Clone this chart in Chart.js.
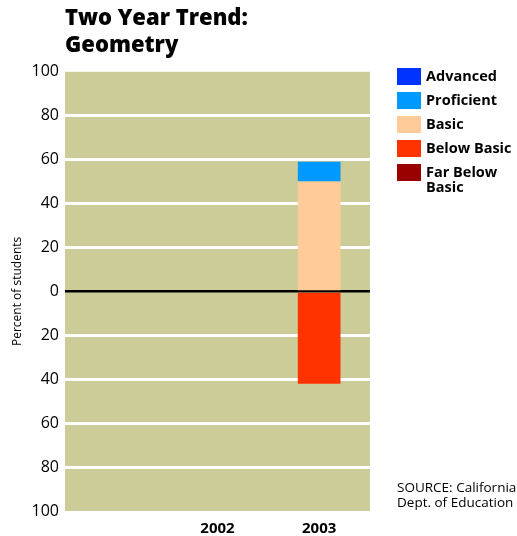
<!DOCTYPE html>
<html>
<head>
<meta charset="utf-8">
<script src="https://cdn.jsdelivr.net/npm/chart.js@4"></script>
<style>
  html, body { margin: 0; padding: 0; background: #fff; }
  #wrap { width: 517px; height: 536px; }
</style>
</head>
<body>
<div id="wrap"><canvas id="trend"></canvas></div>
<script>
// years (first slot left empty, as in the original)
var categories = ['', '2002', '2003'];
var advanced = [null, null, 0];
var proficient = [null, null, 9];
var basic = [null, null, 50];
var belowBasic = [null, null, 42];    // drawn below zero
var farBelowBasic = [null, null, 0];  // drawn below zero
var yTicks = [100, 80, 60, 40, 20, 0, 20, 40, 60, 80, 100];

var FONT = '"Open Sans", "DejaVu Sans", sans-serif';
var colors = {
  advanced: '#0033ff',
  proficient: '#0099ff',
  basic: '#ffcc99',
  belowBasic: '#ff3300',
  farBelowBasic: '#990000'
};

function neg(arr) {
  return arr.map(function (v) { return v === null ? null : -v; });
}

// legend in the order shown on the right
var legendItems = [
  { text: ['Advanced'], color: colors.advanced },
  { text: ['Proficient'], color: colors.proficient },
  { text: ['Basic'], color: colors.basic },
  { text: ['Below Basic'], color: colors.belowBasic },
  { text: ['Far Below', 'Basic'], color: colors.farBelowBasic }
];

var extras = {
  id: 'extras',
  beforeDraw: function (chart) {
    var a = chart.chartArea, c = chart.ctx;
    c.save();
    c.fillStyle = '#cccc99';
    c.fillRect(a.left, a.top, a.right - a.left, a.bottom - a.top);
    c.restore();
  },
  afterDraw: function (chart) {
    var c = chart.ctx;
    c.save();
    c.textBaseline = 'middle';
    c.textAlign = 'left';
    legendItems.forEach(function (item, i) {
      var y = 68 + i * 24;
      c.fillStyle = item.color;
      c.fillRect(397, y, 24, 17);
      c.fillStyle = '#000';
      c.font = 'bold 14.5px ' + FONT;
      item.text.forEach(function (t, j) {
        c.fillText(t, 426, y + 9 + j * 15);
      });
    });
    c.font = '13.5px ' + FONT;
    c.fillText('SOURCE: California', 397, 488);
    c.fillText('Dept. of Education', 397, 503);
    c.restore();
  }
};

new Chart(document.getElementById('trend'), {
  type: 'bar',
  data: {
    labels: categories,
    datasets: [
      { label: 'Basic', data: basic, backgroundColor: colors.basic },
      { label: 'Proficient', data: proficient, backgroundColor: colors.proficient },
      { label: 'Advanced', data: advanced, backgroundColor: colors.advanced },
      { label: 'Below Basic', data: neg(belowBasic), backgroundColor: colors.belowBasic },
      { label: 'Far Below Basic', data: neg(farBelowBasic), backgroundColor: colors.farBelowBasic }
    ]
  },
  options: {
    responsive: true,
    maintainAspectRatio: false,
    animation: false,
    layout: { padding: { top: 4, right: 147, bottom: 0, left: 0 } },
    datasets: { bar: { categoryPercentage: 1, barPercentage: 0.42, borderWidth: 0 } },
    plugins: {
      legend: { display: false },
      tooltip: { enabled: false },
      title: {
        display: true,
        fullSize: false,
        align: 'start',
        text: ['Two Year Trend:', 'Geometry'],
        color: '#000',
        font: { family: FONT, size: 22, weight: 800, lineHeight: 1.2 },
        padding: { top: 2, bottom: 13 }
      }
    },
    scales: {
      x: {
        stacked: true,
        grid: { display: false, drawTicks: false },
        border: { display: false },
        ticks: { color: '#000', padding: 9, font: { family: FONT, size: 15, weight: 'bold' } },
        afterFit: function (s) { s.height = 25; }
      },
      y: {
        stacked: true,
        min: -100,
        max: 100,
        afterBuildTicks: function (s) {
          s.ticks = yTicks.map(function (v, i) { return { value: 100 - i * 20 }; });
        },
        afterFit: function (s) { s.width = 65; },
        grid: {
          drawTicks: false,
          lineWidth: function (ctx) { return ctx.tick && ctx.tick.value === 0 ? 2.5 : 3; },
          color: function (ctx) {
            if (!ctx.tick) return 'transparent';
            if (ctx.tick.value === 0) return '#000';
            if (Math.abs(ctx.tick.value) === 100) return 'transparent';
            return '#ffffff';
          }
        },
        border: { display: false },
        ticks: {
          color: '#000',
          padding: 6,
          font: { family: FONT, size: 16 },
          callback: function (v, i) { return String(yTicks[i]); }
        },
        title: {
          display: true,
          text: 'Percent of students',
          color: '#000',
          padding: { top: 10, bottom: 0 },
          font: { family: FONT, size: 12 }
        }
      }
    }
  },
  plugins: [extras]
});
</script>
</body>
</html>
